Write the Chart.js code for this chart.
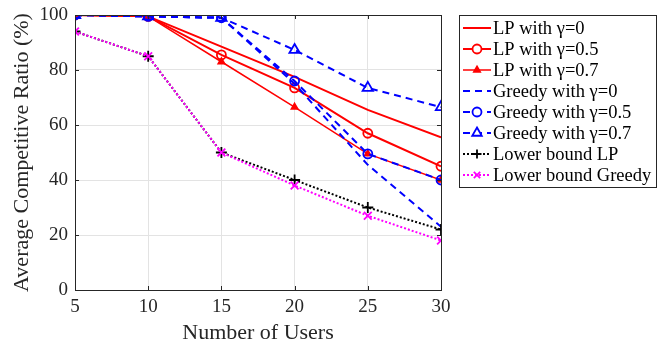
<!DOCTYPE html>
<html>
<head>
<meta charset="utf-8">
<script src="https://cdn.jsdelivr.net/npm/chart.js@4/dist/chart.umd.min.js"></script>
<style>
  html, body { margin: 0; padding: 0; background: #fff; }
  #wrap { width: 669px; height: 354px; position: relative; }
</style>
</head>
<body>
<div id="wrap"><canvas id="myChart" width="669" height="354"></canvas></div>
<script>
// data
var users = [5, 10, 15, 20, 25, 30];
var lp0 = [100, 99.5, 88.5, 77.5, 65.5, 55.5];
var lp05 = [100, 99.5, 85.5, 73.5, 57, 45];
var lp07 = [100, 99.5, 83, 66.5, 49.5, 40];
var greedy0 = [100, 99.5, 99, 75, 45.5, 23];
var greedy05 = [100, 99.5, 99, 76, 49.5, 40];
var greedy07 = [100, 99.5, 99, 87.3, 73.5, 66.5];
var lowerLP = [94, 85, 50, 40, 30, 22];
var lowerGreedy = [94, 85, 50, 38, 27, 18];
var xTicks = [5, 10, 15, 20, 25, 30];
var yTicks = [0, 20, 40, 60, 80, 100];

var RED = '#ff0000', BLUE = '#0000ff', BLACK = '#000000', MAG = '#ff00ff';
var FONT = '"Liberation Serif", "DejaVu Serif", serif';
var AXIS = '#262626';

function pts(vals) {
  return users.map(function (u, i) { return { x: u, y: vals[i] }; });
}

function ds(label, vals, color, width, dash, style, radius, fill) {
  return {
    label: label,
    data: pts(vals),
    borderColor: color,
    borderWidth: width,
    borderDash: dash,
    pointStyle: style || false,
    pointRadius: style ? radius : 0,
    pointBorderColor: color,
    pointBackgroundColor: fill ? color : 'rgba(0,0,0,0)',
    pointBorderWidth: 1.8,
    fill: false,
    tension: 0
  };
}

var datasets = [
  ds('LP with \u03b3=0', lp0, RED, 2, [], null, 0),
  ds('LP with \u03b3=0.5', lp05, RED, 2, [], 'circle', 4.5),
  ds('LP with \u03b3=0.7', lp07, RED, 1.5, [], 'triangle', 3.5, true),
  ds('Greedy with \u03b3=0', greedy0, BLUE, 2, [7, 5], null, 0),
  ds('Greedy with \u03b3=0.5', greedy05, BLUE, 2, [7, 5], 'circle', 4.5),
  ds('Greedy with \u03b3=0.7', greedy07, BLUE, 2, [7, 5], 'triangle', 6),
  ds('Lower bound LP', lowerLP, BLACK, 2, [2, 2], 'cross', 5.5),
  ds('Lower bound Greedy', lowerGreedy, MAG, 2, [2, 2], 'crossRot', 5.5)
];
// later series drawn on top, like matlab
datasets.forEach(function (d, i) { d.order = datasets.length - i; });

// box, inward ticks and legend
var matlabBits = {
  id: 'matlabBits',
  beforeDraw: function (chart) {
    var ctx = chart.ctx;
    ctx.save();
    ctx.fillStyle = '#fff';
    ctx.fillRect(0, 0, chart.width, chart.height);
    ctx.restore();
  },
  afterDraw: function (chart) {
    var ctx = chart.ctx, a = chart.chartArea;
    var xs = chart.scales.x, ys = chart.scales.y;
    ctx.save();
    ctx.strokeStyle = AXIS;
    ctx.lineWidth = 1;
    ctx.setLineDash([]);
    ctx.strokeRect(a.left + 0.5, a.top + 0.5, a.right - a.left, a.bottom - a.top);
    ctx.beginPath();
    xTicks.forEach(function (t) {
      var px = Math.round(xs.getPixelForValue(t)) + 0.5;
      ctx.moveTo(px, a.bottom); ctx.lineTo(px, a.bottom - 4);
      ctx.moveTo(px, a.top); ctx.lineTo(px, a.top + 4);
    });
    yTicks.forEach(function (t) {
      var py = Math.round(ys.getPixelForValue(t)) + 0.5;
      ctx.moveTo(a.left, py); ctx.lineTo(a.left + 4, py);
      ctx.moveTo(a.right, py); ctx.lineTo(a.right - 4, py);
    });
    ctx.stroke();

    // legend
    var lx = 459, ly = 15, lw = 197, lh = 172, row = 21;
    ctx.fillStyle = '#fff';
    ctx.fillRect(lx, ly, lw, lh);
    ctx.strokeStyle = AXIS;
    ctx.strokeRect(lx + 0.5, ly + 0.5, lw, lh);
    ctx.font = '18.5px ' + FONT;
    ctx.textBaseline = 'middle';
    chart.data.datasets.forEach(function (d, i) {
      var cy = ly + 13 + i * row;
      var x0 = lx + 4, x1 = lx + 32;
      ctx.strokeStyle = d.borderColor;
      ctx.lineWidth = d.borderWidth;
      ctx.setLineDash(d.borderDash || []);
      ctx.beginPath();
      ctx.moveTo(x0, cy); ctx.lineTo(x1, cy);
      ctx.stroke();
      ctx.setLineDash([]);
      if (d.pointStyle) {
        ctx.fillStyle = d.pointBackgroundColor === 'rgba(0,0,0,0)' ? '#fff' : d.pointBackgroundColor;
        ctx.strokeStyle = d.pointBorderColor;
        ctx.lineWidth = d.pointBorderWidth;
        Chart.helpers.drawPoint(ctx, {
          pointStyle: d.pointStyle,
          radius: d.pointStyle === 'triangle' && d.pointRadius > 4 ? 5.5 : Math.min(d.pointRadius, 4.5),
          rotation: 0,
          borderWidth: d.pointBorderWidth
        }, (x0 + x1) / 2, cy);
      }
      ctx.fillStyle = '#000';
      ctx.fillText(d.label, lx + 34, cy + 1);
    });
    ctx.restore();
  }
};

new Chart(document.getElementById('myChart'), {
  type: 'line',
  data: { datasets: datasets },
  options: {
    responsive: false,
    animation: false,
    layout: { padding: { left: 0, right: 228, top: 15, bottom: 0 } },
    plugins: { legend: { display: false }, tooltip: { enabled: false } },
    scales: {
      x: {
        type: 'linear',
        min: 5, max: 30,
        afterBuildTicks: function (s) { s.ticks = xTicks.map(function (v) { return { value: v }; }); },
        afterFit: function (s) { s.height = 64; },
        grid: { color: '#e3e3e3', tickLength: 0, drawTicks: false },
        border: { display: false },
        ticks: { color: AXIS, font: { family: FONT, size: 19 }, padding: 6, maxRotation: 0 },
        title: { display: true, text: 'Number of Users', color: AXIS, font: { family: FONT, size: 22 }, padding: { top: 0, bottom: 8 } }
      },
      y: {
        min: 0, max: 100,
        afterBuildTicks: function (s) { s.ticks = yTicks.map(function (v) { return { value: v }; }); },
        afterFit: function (s) { s.width = 75; s.paddingTop = 0; },
        grid: { color: '#e3e3e3', tickLength: 0, drawTicks: false },
        border: { display: false },
        ticks: { color: AXIS, font: { family: FONT, size: 19, lineHeight: 1 }, padding: 7 },
        title: { display: true, text: 'Average Competitive Ratio (%)', color: AXIS, font: { family: FONT, size: 22 }, padding: { top: 9, bottom: 0 } }
      }
    }
  },
  plugins: [matlabBits]
});
</script>
</body>
</html>
